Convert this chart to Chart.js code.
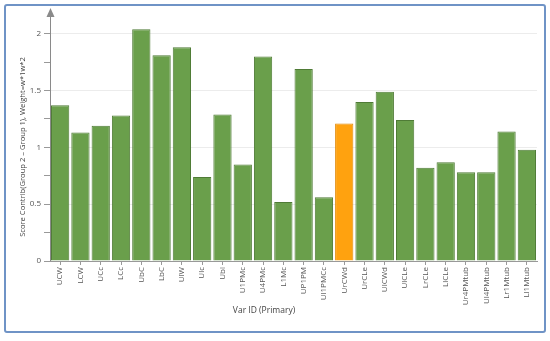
<!DOCTYPE html>
<html>
<head>
<meta charset="utf-8">
<script src="https://cdn.jsdelivr.net/npm/chart.js@4"></script>
<style>
  html, body { margin: 0; padding: 0; background: #fff; }
  #wrap { position: relative; width: 550px; height: 341px; }
  #frame { position: absolute; left: 4px; top: 4px; width: 538px; height: 325px;
           border: 2px solid #6f93c6; border-radius: 3px; pointer-events: none; }
  canvas { position: absolute; left: 0; top: 0; }
</style>
</head>
<body>
<div id="wrap">
  <canvas id="chart" width="550" height="341"></canvas>
  <div id="frame"></div>
</div>
<script>
/* Score contribution per variable */

const labels = ['UCW', 'LCW', 'UCc', 'LCc', 'UbC', 'LbC', 'UlW', 'Ulc', 'Ubi', 'U1PMc',
  'U4PMc', 'L1Mc', 'UP1PM', 'Ul1PMCc', 'UrCWd', 'UrCLe', 'UlCWd', 'UlCLe', 'LrCLe',
  'LlCLe', 'Ur4PMtub', 'Ul4PMtub', 'Lr1Mtub', 'Ll1Mtub'];

const scores = [1.37, 1.13, 1.19, 1.28, 2.04, 1.81, 1.88, 0.74, 1.29, 0.85,
  1.80, 0.52, 1.69, 0.56, 1.21, 1.40, 1.49, 1.24, 0.82,
  0.87, 0.78, 0.78, 1.14, 0.98];

const highlighted = ['UrCWd'];

const yTitle = 'Score Contrib(Group 2 \u2013 Group 1), Weight=w*1w*2';
const xTitle = 'Var ID (Primary)';

const GREEN = '#6a9f4b', GREEN_EDGE = '#4f7b36';
const ORANGE = '#ffa20f', ORANGE_EDGE = '#e08600';

// y axis with an arrow head, plus the two axis titles
const axisDecor = {
  id: 'axisDecor',
  afterDraw(chart) {
    const { ctx, chartArea } = chart;
    const x = chart.scales.y.right;
    ctx.save();
    ctx.strokeStyle = '#8a8a8a';
    ctx.fillStyle = '#8a8a8a';
    ctx.lineWidth = 1;
    ctx.beginPath();
    ctx.moveTo(x + 0.5, chartArea.bottom);
    ctx.lineTo(x + 0.5, chartArea.top);
    ctx.stroke();
    ctx.beginPath();
    ctx.moveTo(x + 0.5, chartArea.top - 3);
    ctx.lineTo(x - 3.5, chartArea.top + 6);
    ctx.lineTo(x + 4.5, chartArea.top + 6);
    ctx.closePath();
    ctx.fill();

    ctx.fillStyle = '#444';
    ctx.textAlign = 'center';
    ctx.textBaseline = 'middle';
    ctx.font = '8.5px "Open Sans"';
    ctx.fillText(xTitle, 264, 311);
    ctx.translate(23, 147);
    ctx.rotate(-Math.PI / 2);
    ctx.font = '7.6px "Open Sans"';
    ctx.fillText(yTitle, 0, 0);
    ctx.restore();
  },
};

new Chart(document.getElementById('chart'), {
  type: 'bar',
  data: {
    labels: labels,
    datasets: [{
      data: scores,
      backgroundColor: labels.map(l => highlighted.includes(l) ? ORANGE : GREEN),
      borderColor: labels.map(l => highlighted.includes(l) ? ORANGE_EDGE : GREEN_EDGE),
      borderWidth: 1,
      barPercentage: 0.9,
      categoryPercentage: 1.0,
    }],
  },
  options: {
    responsive: false,
    animation: false,
    layout: { padding: { left: 4, top: 11, right: 13, bottom: 20 } },
    plugins: { legend: { display: false }, tooltip: { enabled: false } },
    scales: {
      x: {
        afterFit: s => { s.height = 60; },
        grid: { display: true, drawOnChartArea: false, offset: false, tickLength: 4, color: '#999' },
        border: { display: true, color: '#999' },
        ticks: {
          autoSkip: false, maxRotation: 90, minRotation: 90, padding: 2,
          color: '#555', font: { family: 'Open Sans', size: 8 },
        },
      },
      y: {
        min: 0, max: 2.2,
        afterFit: s => { s.width = 46; },
        afterBuildTicks: s => { s.ticks = s.ticks.filter(t => t.value <= 2.0001); },
        border: { display: false },
        grid: {
          tickLength: 6,
          color: c => (c.tick && Math.abs(c.tick.value * 2 - Math.round(c.tick.value * 2)) < 1e-6) ? '#ececec' : 'rgba(0,0,0,0)',
          tickColor: '#999',
        },
        ticks: {
          stepSize: 0.25, padding: 3, color: '#555',
          font: { family: 'Open Sans', size: 8 },
          callback: v => (Math.abs(v * 2 - Math.round(v * 2)) < 1e-6) ? String(v) : '',
        },
      },
    },
  },
  plugins: [axisDecor],
});
</script>
</body>
</html>
